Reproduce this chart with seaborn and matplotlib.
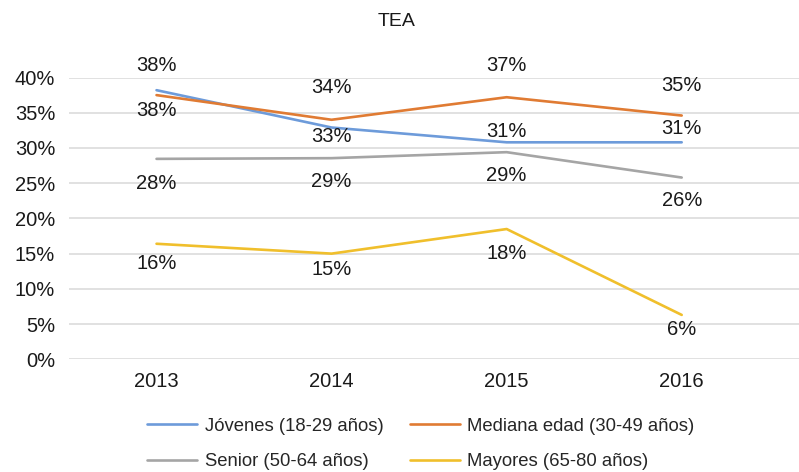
import matplotlib.pyplot as plt
import pandas as pd
import seaborn as sns
from matplotlib.ticker import PercentFormatter

# datos del gráfico TEA (en %)
years = [2013, 2014, 2015, 2016]
series_names = ["Jóvenes (18-29 años)", "Mediana edad (30-49 años)",
                "Senior (50-64 años)", "Mayores (65-80 años)"]
jovenes = [38.2, 32.9, 30.8, 30.8]
mediana = [37.5, 34.0, 37.2, 34.6]
senior = [28.45, 28.55, 29.4, 25.8]
mayores = [16.4, 15.0, 18.49, 6.3]
# desplazamiento vertical de cada etiqueta (pixeles, + arriba / - abajo)
label_offset = {
    series_names[0]: [25, -9, 11, 14],
    series_names[1]: [-15, 32, 32, 30],
    series_names[2]: [-25, -23, -23, -23],
    series_names[3]: [-20, -16, -24, -15],
}
colors = ["#6D9BDA", "#E07B33", "#A5A5A5", "#F0BF2C"]

df = pd.DataFrame({
    "año": years * 4,
    "valor": jovenes + mediana + senior + mayores,
    "grupo": [n for n in series_names for _ in years],
})

sns.set_style("white")
plt.rcParams["font.family"] = ["Liberation Sans", "DejaVu Sans"]

fig = plt.figure(figsize=(7.99, 4.72), dpi=100)
ax = fig.add_axes([69 / 799, 1 - 359.3 / 472, 1 - 69 / 799, (359.3 - 77.5) / 472])

sns.lineplot(data=df, x="año", y="valor", hue="grupo", hue_order=series_names,
             palette=colors, linewidth=1.9, ax=ax, legend=False)

# etiquetas de datos
for name in series_names:
    sub = df[df["grupo"] == name]
    for x, v, off in zip(sub["año"], sub["valor"], label_offset[name]):
        ax.annotate(f"{v:.0f}%", (x, v), xytext=(0, off), textcoords="offset pixels",
                    ha="center", va="center", fontsize=14.5, color="#1a1a1a",
                    annotation_clip=False)

ax.set_xlim(2012.5, 2016.67)
ax.set_ylim(0, 40)
ax.set_xticks(years)
ax.set_yticks(range(0, 41, 5))
ax.yaxis.set_major_formatter(PercentFormatter(decimals=0))
ax.tick_params(axis="y", length=0, pad=10, labelsize=14.5, colors="#1a1a1a")
ax.tick_params(axis="x", length=0, pad=9, labelsize=14.5, colors="#1a1a1a")
ax.grid(axis="y", color="#d9d9d9", linewidth=1.1)
ax.grid(axis="x", visible=False)
for s in ax.spines.values():
    s.set_visible(False)
ax.set_xlabel("")
ax.set_ylabel("")

fig.text(397 / 799, 1 - 22 / 472, "TEA", ha="center", va="center", fontsize=14, color="#1a1a1a")

# leyenda en dos filas
handles = [plt.Line2D([], [], color=c, linewidth=1.9) for c in colors]
order = [0, 2, 1, 3]
fig.legend([handles[i] for i in order], [series_names[i] for i in order],
           ncol=2, loc="center", bbox_to_anchor=(421 / 799, 1 - 444 / 472),
           frameon=False, fontsize=13.3, handlelength=2.7, handletextpad=0.4,
           columnspacing=1.45, labelspacing=1.0, borderpad=0)

fig.savefig("out.png", dpi=100)
